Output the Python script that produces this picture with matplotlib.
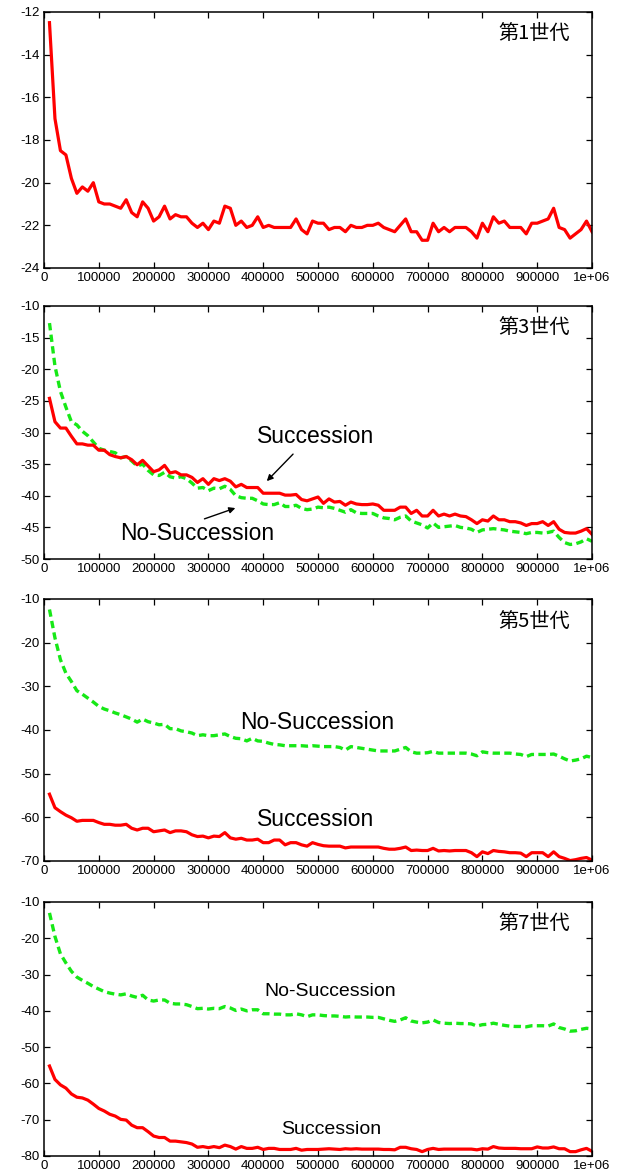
import numpy as np
import matplotlib
matplotlib.use('Agg')
import matplotlib.pyplot as plt
from matplotlib.ticker import FixedLocator, FuncFormatter

plt.rcParams['axes.unicode_minus'] = False

RED = '#ff0000'
GREEN = '#16e816'
FONT = 'Liberation Sans'

steps = np.arange(10000, 1000001, 10000)

gen1_succ = [
    -12.5, -17.0, -18.5, -18.7, -19.8, -20.5, -20.2, -20.4, -20.0, -20.9,
    -21.0, -21.0, -21.1, -21.2, -20.8, -21.4, -21.6, -20.9, -21.2, -21.8,
    -21.6, -21.1, -21.7, -21.5, -21.6, -21.6, -21.9, -22.1, -21.9, -22.2,
    -21.8, -21.9, -21.1, -21.2, -22.0, -21.8, -22.1, -22.0, -21.6, -22.1,
    -22.0, -22.1, -22.1, -22.1, -22.1, -21.7, -22.2, -22.4, -21.8, -21.9,
    -21.9, -22.2, -22.1, -22.1, -22.3, -22.0, -22.1, -22.1, -22.0, -22.0,
    -21.9, -22.1, -22.2, -22.3, -22.0, -21.7, -22.3, -22.3, -22.7, -22.7,
    -21.9, -22.3, -22.1, -22.3, -22.1, -22.1, -22.1, -22.3, -22.6, -21.9,
    -22.3, -21.6, -21.9, -21.8, -22.1, -22.1, -22.1, -22.4, -21.9, -21.9,
    -21.8, -21.7, -21.2, -22.1, -22.2, -22.6, -22.4, -22.2, -21.8, -22.3]

gen3_succ = [
    -24.6, -28.3, -29.3, -29.3, -30.6, -31.8, -31.8, -32.0, -32.0, -32.8,
    -32.8, -33.5, -33.8, -34.0, -33.8, -34.3, -35.1, -34.4, -35.3, -36.2,
    -35.9, -35.2, -36.4, -36.2, -36.7, -36.7, -37.1, -37.9, -37.3, -38.2,
    -37.3, -37.6, -37.3, -37.7, -38.6, -38.2, -38.7, -38.7, -38.7, -39.6,
    -39.6, -39.6, -39.6, -39.9, -39.9, -39.8, -40.6, -40.8, -40.5, -40.2,
    -41.2, -40.5, -41.0, -40.9, -41.5, -41.0, -41.3, -41.4, -41.4, -41.3,
    -41.5, -42.3, -42.3, -42.3, -41.8, -41.8, -42.8, -42.3, -43.2, -43.2,
    -42.3, -43.2, -42.9, -43.2, -42.9, -43.2, -43.3, -43.8, -44.4, -43.8,
    -44.0, -43.2, -43.8, -43.8, -44.1, -44.1, -44.3, -44.7, -44.4, -44.4,
    -44.1, -44.7, -44.1, -45.3, -45.8, -45.9, -45.9, -45.6, -45.2, -46.1]

gen3_nosucc = [
    -12.7, -19.5, -23.5, -26.0, -28.3, -28.8, -29.8, -30.5, -31.5, -32.5,
    -32.8, -33.0, -33.2, -34.0, -33.8, -34.5, -35.3, -35.0, -36.0, -36.7,
    -36.8, -36.3, -37.0, -37.2, -37.0, -37.3, -38.0, -38.8, -38.7, -39.2,
    -38.8, -38.9, -38.5, -39.0, -40.0, -40.3, -40.4, -40.4, -40.8, -41.3,
    -41.4, -41.4, -41.1, -41.7, -41.7, -41.5, -42.0, -42.2, -42.1, -41.8,
    -41.9, -41.8, -42.0, -42.3, -42.6, -42.2, -42.7, -42.8, -42.8, -42.8,
    -43.2, -43.5, -43.6, -43.8, -43.4, -43.2, -44.0, -44.3, -44.6, -45.1,
    -44.3, -45.0, -44.9, -44.8, -44.7, -45.0, -45.1, -45.3, -45.8, -45.4,
    -45.3, -45.2, -45.3, -45.4, -45.6, -45.7, -45.8, -46.0, -45.8, -45.8,
    -45.9, -45.8, -45.6, -46.6, -47.4, -47.7, -47.6, -47.3, -46.8, -47.2]

gen5_succ = [
    -54.7, -57.8, -58.7, -59.5, -60.1, -60.9, -60.7, -60.7, -60.7, -61.2,
    -61.6, -61.6, -61.8, -61.8, -61.6, -62.5, -62.9, -62.5, -62.5, -63.3,
    -63.1, -62.9, -63.5, -63.1, -63.1, -63.3, -64.0, -64.4, -64.3, -64.7,
    -64.3, -64.4, -63.5, -64.7, -65.0, -64.8, -65.2, -65.2, -65.0, -65.8,
    -65.8, -65.2, -65.2, -66.3, -65.8, -65.8, -66.3, -66.6, -65.8, -66.2,
    -66.5, -66.6, -66.6, -66.6, -67.0, -66.8, -66.8, -66.8, -66.8, -66.8,
    -66.8, -67.1, -67.3, -67.3, -67.1, -66.8, -67.6, -67.5, -67.6, -67.6,
    -67.1, -67.7, -67.6, -67.7, -67.6, -67.6, -67.6, -68.1, -69.0, -67.9,
    -68.3, -67.6, -67.8, -67.9, -68.1, -68.1, -68.2, -69.0, -68.1, -68.1,
    -68.1, -69.0, -67.9, -69.0, -69.4, -69.9, -69.7, -69.4, -69.2, -69.8]

gen5_nosucc = [
    -12.4, -18.9, -23.9, -27.0, -28.9, -31.0, -31.8, -32.7, -33.6, -34.6,
    -35.2, -35.6, -36.1, -36.5, -37.0, -37.5, -38.2, -37.5, -38.1, -38.4,
    -38.8, -38.7, -39.7, -39.7, -40.2, -40.4, -40.7, -41.3, -41.1, -41.3,
    -41.3, -41.1, -40.9, -41.5, -41.9, -42.0, -42.5, -41.9, -42.5, -42.6,
    -43.0, -43.3, -43.4, -43.6, -43.6, -43.6, -43.6, -43.7, -43.6, -43.7,
    -43.8, -43.8, -43.8, -44.0, -44.6, -43.8, -44.0, -44.2, -44.4, -44.6,
    -44.8, -44.8, -44.8, -44.8, -44.4, -44.0, -45.0, -45.3, -45.3, -45.2,
    -44.9, -45.3, -45.3, -45.3, -45.3, -45.3, -45.3, -45.5, -45.9, -45.0,
    -45.2, -45.3, -45.3, -45.3, -45.3, -45.5, -45.6, -46.1, -45.6, -45.6,
    -45.6, -45.6, -45.5, -46.0, -46.6, -47.1, -46.9, -46.6, -46.0, -46.3]

gen7_succ = [
    -55.2, -58.9, -60.4, -61.3, -62.9, -63.8, -64.0, -64.6, -65.7, -66.9,
    -67.6, -68.5, -69.0, -69.9, -70.1, -71.5, -72.2, -72.2, -73.3, -74.5,
    -74.9, -74.9, -75.9, -75.9, -76.1, -76.3, -76.7, -77.6, -77.4, -77.7,
    -77.4, -77.7, -77.0, -77.4, -78.1, -77.4, -77.9, -77.9, -77.6, -78.2,
    -77.9, -77.9, -78.2, -78.2, -78.2, -77.9, -78.4, -78.2, -78.2, -78.2,
    -78.1, -78.0, -78.1, -78.2, -78.0, -78.1, -78.0, -78.1, -78.1, -78.1,
    -78.1, -78.2, -78.2, -78.3, -77.6, -77.6, -78.0, -78.2, -78.8, -78.2,
    -77.9, -78.2, -78.1, -78.1, -78.1, -78.1, -78.1, -78.1, -78.3, -78.0,
    -78.1, -77.4, -77.8, -77.9, -77.9, -77.9, -78.0, -78.0, -78.0, -77.5,
    -77.8, -77.8, -77.5, -78.0, -78.0, -78.8, -78.8, -78.3, -77.9, -78.7]

gen7_nosucc = [
    -13.0, -19.5, -24.3, -26.8, -29.1, -30.7, -31.6, -32.4, -33.3, -34.0,
    -34.7, -35.1, -35.4, -35.6, -35.3, -35.9, -36.3, -35.7, -37.0, -37.3,
    -37.0, -37.0, -37.9, -38.1, -38.1, -38.3, -38.8, -39.4, -39.3, -39.5,
    -39.3, -39.4, -38.8, -39.2, -39.9, -39.5, -40.0, -39.7, -39.7, -40.8,
    -40.8, -40.9, -40.9, -41.1, -41.1, -40.8, -41.1, -41.6, -41.1, -41.1,
    -41.3, -41.4, -41.4, -41.5, -41.7, -41.6, -41.7, -41.7, -41.7, -41.8,
    -41.8, -42.2, -42.6, -42.9, -42.5, -41.9, -42.8, -43.1, -43.3, -43.1,
    -42.5, -43.2, -43.4, -43.5, -43.4, -43.5, -43.5, -43.6, -44.2, -43.8,
    -43.7, -43.4, -43.7, -44.0, -44.2, -44.3, -44.3, -44.4, -44.1, -44.1,
    -44.1, -44.2, -43.6, -44.6, -45.0, -45.6, -45.5, -45.1, -44.8, -45.0]

panel_labels = ['第1世代', '第3世代', '第5世代', '第7世代']
y_limits = [(-24, -12), (-50, -10), (-70, -10), (-80, -10)]
y_steps = [2, 5, 10, 10]
x_ticks = list(range(0, 1000001, 100000))

# axes boxes in pixels: (top, bottom), left/right shared
W, H = 626, 1174
LEFT, RIGHT = 44, 592
boxes = [(12, 268), (306, 559), (599, 861), (902, 1156)]


def x_label(v, pos):
    if v >= 1000000:
        return '1e+06'
    return '%d' % v


def style_axes(ax, ylim, ystep):
    ax.set_xlim(0, 1000000)
    ax.set_ylim(*ylim)
    ax.xaxis.set_major_locator(FixedLocator(x_ticks))
    ax.xaxis.set_major_formatter(FuncFormatter(x_label))
    ax.yaxis.set_major_locator(FixedLocator(np.arange(ylim[0], ylim[1] + 0.1, ystep)))
    ax.tick_params(direction='in', top=True, right=True, length=4.5, width=0.9,
                   labelsize=9.5, pad=3, colors='black')
    for lab in ax.get_xticklabels() + ax.get_yticklabels():
        lab.set_family(FONT)
    for sp in ax.spines.values():
        sp.set_linewidth(1.1)


fig = plt.figure(figsize=(W / 100, H / 100), dpi=100)
axes = []
for (top, bottom) in boxes:
    ax = fig.add_axes([LEFT / W, 1 - bottom / H, (RIGHT - LEFT) / W, (bottom - top) / H])
    axes.append(ax)

succ = [gen1_succ, gen3_succ, gen5_succ, gen7_succ]
nosucc = [None, gen3_nosucc, gen5_nosucc, gen7_nosucc]

for i, ax in enumerate(axes):
    if nosucc[i] is not None:
        ax.plot(steps, nosucc[i], color=GREEN, lw=2.4, dashes=(2.2, 1.3), solid_capstyle='butt')
    ax.plot(steps, succ[i], color=RED, lw=2.3, solid_joinstyle='round')
    style_axes(ax, y_limits[i], y_steps[i])
    ax.text(0.96, 0.915, panel_labels[i], transform=ax.transAxes, ha='right', va='center',
            fontsize=14.5, family=['Noto Sans CJK JP', FONT])

# generation 3 annotations with arrows
ax = axes[1]
ax.text(495000, -30.7, 'Succession', ha='center', va='center', fontsize=16.5, family=FONT)
ax.annotate('', xy=(403000, -38.0), xytext=(458000, -33.1),
            arrowprops=dict(arrowstyle='-|>', color='black', lw=1.0, mutation_scale=9))
ax.text(279000, -45.9, 'No-Succession', ha='center', va='center', fontsize=16.5, family=FONT)
ax.annotate('', xy=(354000, -41.8), xytext=(288000, -43.8),
            arrowprops=dict(arrowstyle='-|>', color='black', lw=1.0, mutation_scale=9))

# generation 5
ax = axes[2]
ax.text(498000, -38.2, 'No-Succession', ha='center', va='center', fontsize=16.5, family=FONT)
ax.text(496000, -60.6, 'Succession', ha='center', va='center', fontsize=16.5, family=FONT)

# generation 7
ax = axes[3]
ax.text(522000, -34.8, 'No-Succession', ha='center', va='center', fontsize=14, family=FONT)
ax.text(524000, -72.6, 'Succession', ha='center', va='center', fontsize=14, family=FONT)

fig.savefig('out.png', dpi=100)
